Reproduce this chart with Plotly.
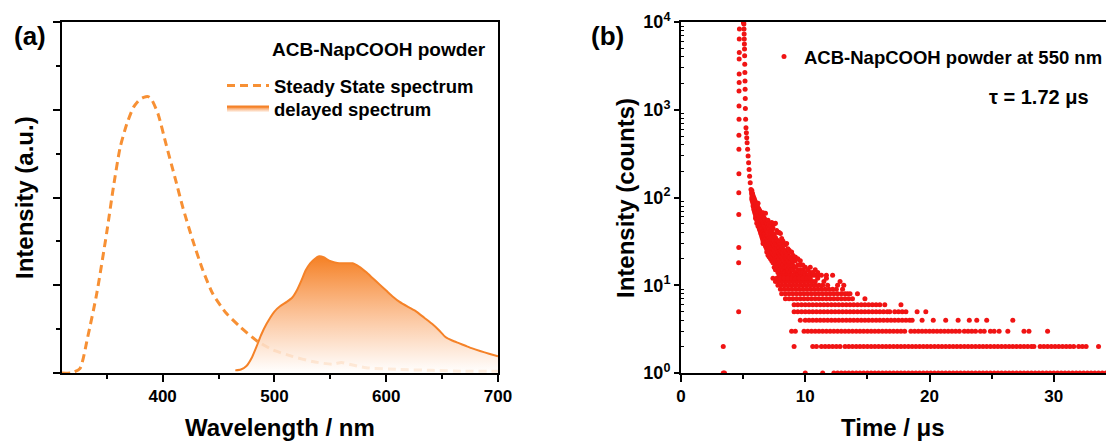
import plotly.graph_objects as go

# ---------------- panel (a): spectra ----------------
steady_wl = [310, 318, 326, 333, 341, 350, 356, 362, 368, 374, 379, 383, 387, 390, 396, 403, 411,
             418, 427, 436, 445, 457, 469, 485, 499, 516, 534, 552, 560, 567, 582, 612, 641, 670, 700]
steady_int = [0.0, 0.0, 0.05, 0.41, 0.9, 1.6, 2.12, 2.57, 2.84, 3.03, 3.11, 3.14, 3.15, 3.12, 2.95,
              2.61, 2.23, 1.89, 1.51, 1.17, 0.9, 0.68, 0.53, 0.36, 0.26, 0.19, 0.13, 0.1, 0.12, 0.1,
              0.06, 0.04, 0.03, 0.02, 0.02]

delayed_wl = [465, 470, 475, 480, 484, 488, 493, 500, 505, 511, 516, 520, 524, 528, 532, 536, 540,
              544, 549, 554, 558, 564, 570, 576, 582, 588, 594, 600, 606, 612, 620, 627, 634, 641,
              647, 653, 659, 665, 671, 677, 684, 692, 700]
delayed_int = [0.03, 0.04, 0.08, 0.18, 0.3, 0.43, 0.56, 0.70, 0.76, 0.81, 0.86, 0.94, 1.05, 1.17,
               1.25, 1.30, 1.33, 1.32, 1.28, 1.26, 1.25, 1.25, 1.25, 1.21, 1.15, 1.08, 1.01, 0.94,
               0.87, 0.81, 0.75, 0.70, 0.63, 0.56, 0.49, 0.41, 0.37, 0.34, 0.31, 0.28, 0.25, 0.22, 0.19]

# ---------------- panel (b): decay (time in us, counts) ----------------
edge_t = [4.64, 4.64, 4.65, 4.65, 4.65, 4.66, 4.66, 4.66, 4.67, 4.67, 4.67, 4.68, 4.68, 4.68, 4.69, 4.69, 4.70]
edge_c = [5, 18, 27, 64, 113, 187, 354, 512, 778, 1105, 1640, 2040, 2550, 3780, 4500, 6400, 8320]

peak_t = [5.02, 5.04, 5.06, 5.07, 5.08, 5.09, 5.10, 5.11, 5.12, 5.13, 5.14, 5.15, 5.16, 5.17, 5.18,
          5.20, 5.23, 5.26, 5.29, 5.32, 5.36, 5.40, 5.44, 5.48, 5.52, 5.57, 5.63, 5.68]
peak_c = [10000, 9800, 9480, 8320, 7290, 6390, 5610, 4910, 4120, 3310, 2660, 2130, 1715, 1343, 1033,
          778, 625, 548, 481, 422, 354, 297, 249, 209, 175, 147, 123, 113]

band_times = [5.70, 5.75, 5.80, 5.85, 5.90, 5.95, 6.00, 6.05, 6.10, 6.15, 6.20, 6.25, 6.30, 6.35,
              6.40, 6.45, 6.50, 6.55, 6.60, 6.65, 6.70, 6.75, 6.80, 6.85, 6.90, 6.95, 7.00, 7.10,
              7.20, 7.30, 7.40, 7.50, 7.60, 7.70, 7.80, 7.90, 8.00, 8.10, 8.20, 8.30, 8.40, 8.50,
              8.60, 8.70, 8.80, 8.90, 9.00, 9.20, 9.40, 9.60, 9.80, 10.0, 10.2, 10.4, 10.6, 10.8,
              11.0, 11.3, 11.7, 12.2]
band_counts = [[120, 108, 100, 95], [112, 96, 90, 104], [105, 92, 85, 98, 80], [100, 86, 80, 92, 74],
               [96, 82, 76, 88, 70], [92, 78, 71, 84, 66], [88, 74, 68, 80, 62, 58],
               [85, 70, 64, 76, 59], [82, 67, 60, 73, 55, 51], [80, 64, 58, 69, 52],
               [86, 62, 56, 67, 50, 47], [75, 59, 54, 63, 48], [72, 58, 52, 62, 49, 44],
               [70, 55, 50, 60, 46, 42], [68, 54, 48, 58, 44, 40], [66, 52, 47, 56, 43, 38],
               [65, 50, 45, 55, 42, 36], [63, 48, 44, 53, 40, 34], [67, 47, 42, 51, 39, 32, 30],
               [60, 45, 41, 49, 37, 31], [58, 44, 39, 48, 36, 30], [56, 42, 38, 46, 34, 29],
               [66, 41, 37, 45, 33, 28, 52], [54, 40, 35, 43, 32, 27], [52, 39, 34, 42, 31, 26, 24],
               [50, 37, 33, 41, 30, 25], [55, 37, 32, 40, 29, 24, 46, 22],
               [50, 35, 30, 38, 27, 44, 23, 21], [48, 33, 29, 36, 26, 41, 22, 20],
               [52, 31, 27, 35, 24, 42, 21, 19], [45, 30, 26, 33, 23, 38, 20, 18],
               [50, 28, 25, 32, 22, 38, 19, 16], [51, 27, 23, 30, 21, 35, 18, 15],
               [42, 26, 22, 29, 20, 33, 17, 15], [40, 24, 21, 28, 19, 32, 16, 14],
               [40, 23, 20, 27, 18, 31, 15, 13], [39, 22, 19, 25, 17, 29, 15, 13],
               [34, 21, 24, 18, 16, 27, 14], [32, 20, 23, 17, 15, 26, 14, 13],
               [30, 19, 22, 16, 14, 25, 13], [29, 18, 21, 16, 14, 24, 13],
               [30, 18, 20, 15, 13, 23, 16], [26, 17, 19, 15, 14, 22, 13], [25, 16, 21, 14, 13, 18],
               [24, 16, 18, 21, 14, 13], [24, 15, 17, 20, 13], [22, 15, 17, 13, 19],
               [21, 14, 16, 19, 13], [20, 14, 17, 15, 13], [19, 13, 15, 17, 14], [17, 13, 15, 14],
               [16, 14, 13], [15, 13], [16, 14, 13], [13, 14], [15, 13], [14, 13], [13], [13], [13]]

t_c12 = [7.4, 7.7, 8.0, 8.3, 8.6, 8.9, 9.2, 9.5, 9.8, 10.1, 10.4, 11.0, 11.7]
t_c11 = [7.6, 7.9, 8.2, 8.5, 8.8, 9.1, 9.4, 9.7, 10.0, 10.3, 10.6, 10.8, 11.5, 12.8]
t_c10 = [7.8, 8.1, 8.4, 8.7, 9.0, 9.3, 9.6, 9.9, 10.2, 10.5, 10.8, 11.1, 11.4, 11.8, 12.6, 13.1]
t_c9 = [8.0, 8.3, 8.6, 8.9, 9.2, 9.5, 9.8, 10.1, 10.4, 10.7, 11.0, 11.3, 11.6, 11.9, 12.2, 12.5, 13.0]
t_c8 = [8.1, 8.4, 8.7, 9.0, 9.3, 9.6, 9.9, 10.2, 10.5, 10.8, 11.1, 11.4, 11.7, 12.0, 12.3, 12.6,
        12.9, 13.2, 13.4, 13.6, 14.2]
t_c7 = [8.4, 8.7, 9.0, 9.3, 9.6, 9.9, 10.2, 10.5, 10.8, 11.1, 11.4, 11.7, 12.0, 12.3, 12.6, 12.9,
        13.2, 13.5, 13.8, 14.8]
t_c6 = [9.1, 9.4, 9.7, 10.0, 10.3, 10.6, 10.9, 11.2, 11.5, 11.8, 12.1, 12.4, 12.7, 13.0, 13.3, 13.6,
        13.9, 14.2, 14.5, 14.8, 15.1, 15.4, 15.7, 16.0, 16.4, 17.7]
t_c5 = [9.1, 9.4, 9.7, 10.0, 10.3, 10.6, 10.9, 11.2, 11.5, 11.8, 12.1, 12.4, 12.7, 13.0, 13.3, 13.6,
        13.9, 14.2, 14.5, 14.8, 15.1, 15.4, 15.7, 16.0, 16.3, 16.6, 16.8, 17.2, 17.5, 17.8, 18.1,
        19.0, 19.7]
t_c4 = [9.6, 10.0, 10.3, 10.6, 10.9, 11.2, 11.5, 11.8, 12.1, 12.4, 12.7, 13.0, 13.3, 13.6, 13.9,
        14.2, 14.5, 14.8, 15.1, 15.4, 15.7, 16.0, 16.3, 16.6, 16.9, 17.2, 17.5, 17.8, 18.1, 18.4,
        18.6, 19.4, 20.3, 21.3, 22.3, 23.2, 23.8, 24.6, 26.7]
t_c3 = [8.9, 9.2, 9.9, 10.2, 10.5, 10.8, 11.1, 11.4, 11.7, 12.0, 12.3, 12.6, 12.9, 13.2, 13.5, 13.8,
        14.1, 14.4, 14.7, 15.0, 15.3, 15.6, 15.9, 16.2, 16.5, 16.8, 17.1, 17.4, 17.7, 18.0, 18.5,
        18.8, 19.1, 19.4, 19.7, 20.0, 20.3, 20.6, 20.9, 21.2, 21.5, 21.8, 22.1, 22.4, 22.8, 23.1,
        23.4, 23.7, 24.1, 24.4, 24.9, 25.2, 25.6, 26.3, 27.6, 28.0, 29.5]
t_c2 = [3.4, 9.1, 10.6, 10.9, 11.3, 11.6, 11.9, 12.2, 12.5, 12.8, 13.2, 13.5, 13.8, 14.1, 14.4, 14.7,
        15.0, 15.3, 15.6, 15.9, 16.2, 16.5, 16.8, 17.1, 17.4, 17.7, 18.0, 18.3, 18.6, 18.9, 19.2,
        19.5, 19.8, 20.1, 20.4, 20.7, 21.0, 21.3, 21.6, 21.9, 22.2, 22.5, 22.8, 23.1, 23.4, 23.7,
        24.0, 24.3, 24.6, 24.9, 25.2, 25.5, 25.8, 26.1, 26.4, 26.7, 27.0, 27.3, 27.6, 27.9, 28.2,
        28.4, 28.9, 29.2, 29.5, 29.8, 30.1, 30.4, 30.7, 31.0, 31.3, 31.6, 32.0, 32.3, 32.6, 33.6]
t_c1 = [3.4, 3.5, 10.0, 11.4, 12.3, 12.6, 12.9, 13.2, 13.5, 13.8, 14.1, 14.4, 14.7, 15.0, 15.3, 15.6,
        15.9, 16.2, 16.5, 16.8, 17.1, 17.4, 17.7, 18.0, 18.3, 18.6, 18.9, 19.2, 19.5, 19.8, 20.1,
        20.4, 20.7, 21.0, 21.3, 21.6, 21.9, 22.2, 22.5, 22.8, 23.1, 23.4, 23.7, 24.0, 24.3, 24.6,
        24.9, 25.2, 25.5, 25.8, 26.1, 26.4, 26.7, 27.0, 27.3, 27.6, 27.9, 28.2, 28.5, 28.8, 29.1,
        29.4, 29.7, 30.0, 30.3, 30.6, 30.9, 31.2, 31.5, 31.8, 32.1, 32.4, 32.7, 33.0, 33.3, 33.6,
        33.9, 34.2]

row_levels = [1, 2, 3, 4, 5, 6, 7, 8, 9, 10, 11, 12]
row_times = [t_c1, t_c2, t_c3, t_c4, t_c5, t_c6, t_c7, t_c8, t_c9, t_c10, t_c11, t_c12]

decade_vals = [1, 10, 100, 1000, 10000]
decade_text = ["10<sup>0</sup>", "10<sup>1</sup>", "10<sup>2</sup>", "10<sup>3</sup>", "10<sup>4</sup>"]

# assemble panel (b) series
dec_t, dec_c = [], []
dec_t += edge_t; dec_c += edge_c
dec_t += peak_t; dec_c += peak_c
for t, cs in zip(band_times, band_counts):
    for c in cs:
        dec_t.append(t); dec_c.append(c)
for lvl, ts in zip(row_levels, row_times):
    for t in ts:
        dec_t.append(t); dec_c.append(lvl)

ORANGE = "rgb(247,144,52)"
FONT = "Liberation Sans, Arial, sans-serif"

fig = go.Figure()
fig.add_trace(go.Scatter(
    x=steady_wl, y=steady_int, mode="lines", name="Steady State spectrum",
    line=dict(color=ORANGE, width=3, dash="8px,5px", shape="spline", smoothing=0.6),
    xaxis="x", yaxis="y", legend="legend"))
fig.add_trace(go.Scatter(
    x=delayed_wl, y=delayed_int, mode="lines", name="delayed spectrum", fill="tozeroy",
    fillgradient=dict(type="vertical", colorscale=[[0, "rgba(255,255,255,0.85)"],
                                                    [0.5, "rgba(251,190,145,0.92)"],
                                                    [1, "rgba(245,128,36,1)"]]),
    line=dict(color="rgb(245,130,40)", width=2, shape="spline", smoothing=0.5),
    xaxis="x", yaxis="y", legend="legend3"))
fig.add_trace(go.Scatter(
    x=dec_t, y=dec_c, mode="markers", name="ACB-NapCOOH powder at 550 nm",
    marker=dict(color="rgb(240,20,20)", size=5),
    xaxis="x2", yaxis="y2", legend="legend2"))

W, H = 1106, 441
def px(x): return x / W
def py(y): return (H - y) / H

axis_common = dict(showline=True, linewidth=2, linecolor="black", showgrid=False, zeroline=False,
                   tickcolor="black", tickwidth=2, automargin=False)

minor_y2 = [m * d for d in [1, 10, 100, 1000] for m in range(2, 10)]

legend_style = dict(xanchor="left", yanchor="middle", bgcolor="rgba(0,0,0,0)")

fig.update_layout(
    width=W, height=H, margin=dict(l=0, r=0, t=0, b=0, autoexpand=False),
    paper_bgcolor="white", plot_bgcolor="white",
    font=dict(family=FONT, color="black", weight="bold", size=17),
    xaxis=dict(domain=[px(62), px(498)], range=[310, 700], tickvals=[400, 500, 600, 700],
               ticks="outside", ticklen=7, mirror=True, anchor="y", tickfont=dict(size=17),
               minor=dict(tickvals=[350, 450, 550, 650], ticks="outside", ticklen=4,
                          tickwidth=2, tickcolor="black", showgrid=False),
               **axis_common),
    yaxis=dict(domain=[py(373), py(22)], range=[0, 4], dtick=1, ticks="outside", ticklen=7,
               showticklabels=False, mirror=True, anchor="x",
               minor=dict(dtick=0.5, ticks="outside", ticklen=4, tickwidth=2, tickcolor="black",
                          showgrid=False),
               **axis_common),
    xaxis2=dict(domain=[px(681), 1.0], range=[0, 34.2], dtick=10, ticks="outside", ticklen=7,
                mirror=True, anchor="y2", tickfont=dict(size=17),
                minor=dict(dtick=5, ticks="outside", ticklen=4, tickwidth=2, tickcolor="black",
                           showgrid=False),
                **axis_common),
    yaxis2=dict(domain=[py(373), py(22)], type="log", range=[0, 4], tickvals=decade_vals,
                ticktext=decade_text, ticks="outside", ticklen=5, mirror=False, anchor="x2",
                tickfont=dict(size=18),
                minor=dict(tickmode="array", tickvals=minor_y2, ticks="inside", ticklen=3,
                           tickwidth=1, tickcolor="black", showgrid=False),
                **axis_common),
    legend=dict(x=px(222), y=py(86), font=dict(size=18.5), itemwidth=42, **legend_style),
    legend3=dict(x=px(222), y=py(109), font=dict(size=18.5), itemwidth=42, **legend_style),
    legend2=dict(x=px(764), y=py(57), font=dict(size=18.5), **legend_style),
    showlegend=True,
)

annots = [
    dict(text="(a)", x=px(30), y=py(36), size=26),
    dict(text="(b)", x=px(607), y=py(36), size=26),
    dict(text="Wavelength / nm", x=px(280), y=py(427), size=24),
    dict(text="Time / μs", x=px(893), y=py(427), size=24),
    dict(text="Intensity (a.u.)", x=px(24), y=py(198), size=24, angle=-90),
    dict(text="Intensity (counts)", x=px(625), y=py(198), size=24, angle=-90),
]
for a in annots:
    fig.add_annotation(text=a["text"], x=a["x"], y=a["y"], xref="paper", yref="paper",
                       xanchor="center", yanchor="middle", showarrow=False,
                       textangle=a.get("angle", 0), font=dict(size=a["size"]))
fig.add_annotation(text="ACB-NapCOOH powder", x=px(488), y=py(49), xref="paper", yref="paper",
                   xanchor="right", yanchor="middle", showarrow=False, font=dict(size=19))
fig.add_annotation(text="τ = 1.72 μs", x=px(1091), y=py(97), xref="paper", yref="paper",
                   xanchor="right", yanchor="middle", showarrow=False, font=dict(size=20))

fig.write_html("out.html")
